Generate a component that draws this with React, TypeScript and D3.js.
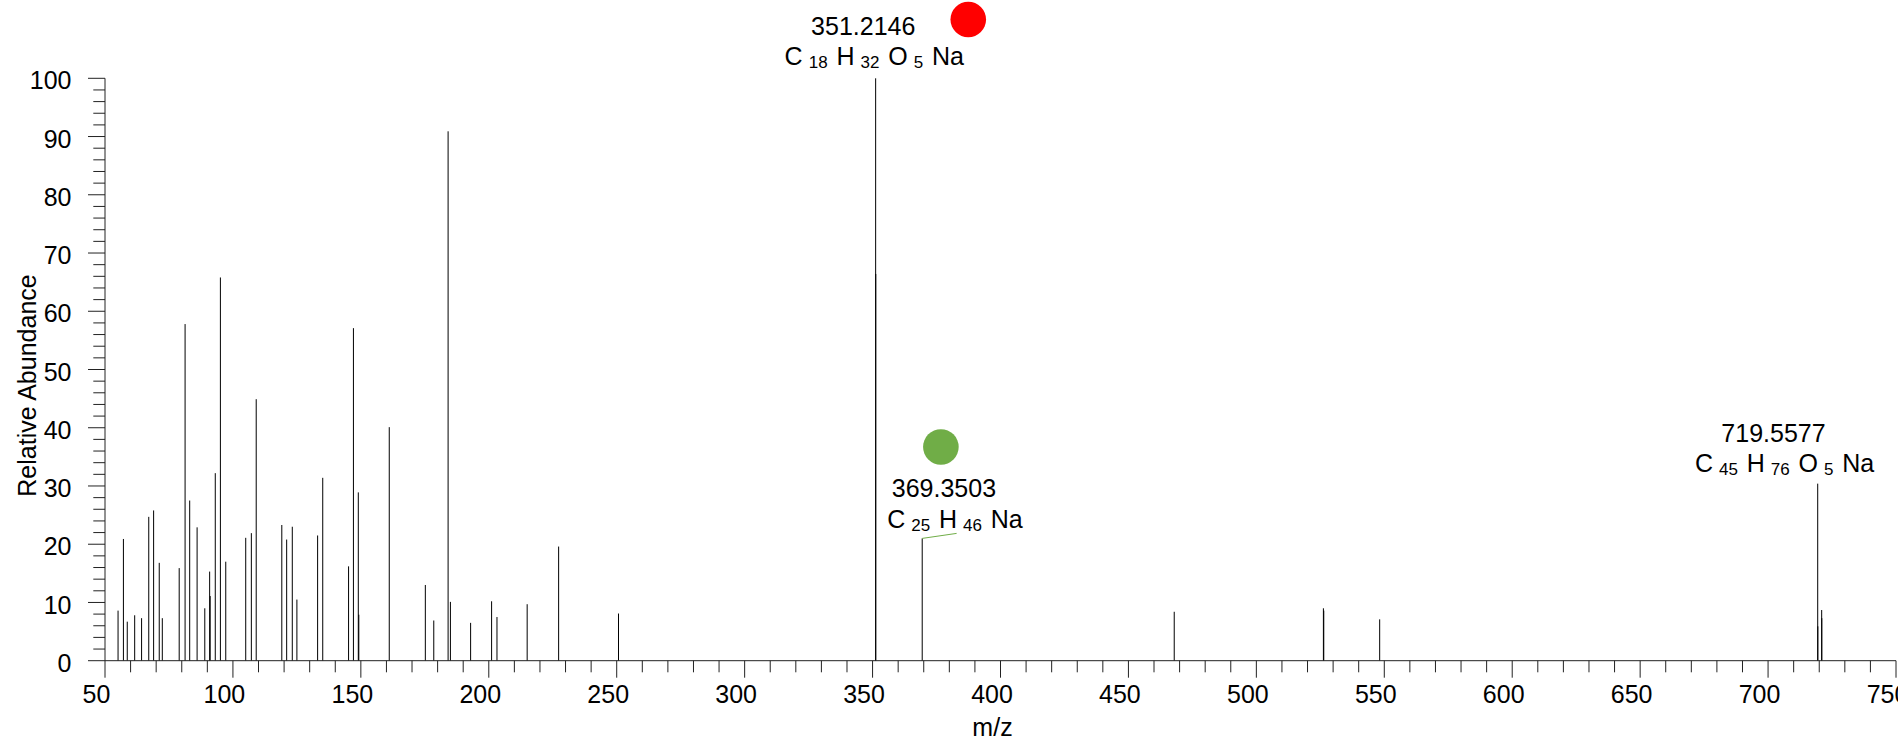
import React from "react";
import * as d3 from "d3";

// ---------- data ----------
const peakMz = [
  55.1, 57.2, 58.7, 61.6, 64.3, 67.1, 69.0, 71.2, 72.4, 79.0, 81.3, 83.1, 86.0, 89.0, 90.9, 91.1,
  93.1, 95.1, 97.2, 105.0, 107.2, 109.1, 119.1, 121.0, 123.2, 125.0, 133.1, 135.1, 145.2, 147.1,
  149.0, 149.2, 161.1, 175.2, 178.5, 184.1, 185.0, 192.9, 201.1, 203.2, 215.0, 227.3, 250.7,
  351.2, 351.25, 369.4, 467.9, 526.2, 526.35, 548.2, 719.4, 719.45, 720.95, 721.0,
];
const peakIntensity = [
  8.6, 20.9, 6.7, 7.8, 7.3, 24.7, 25.8, 16.8, 7.3, 15.9, 57.8, 27.5, 22.9, 9.0, 15.3, 11.1,
  32.2, 65.8, 17.0, 21.1, 21.9, 44.9, 23.3, 20.8, 23.0, 10.5, 21.5, 31.4, 16.2, 57.1,
  28.9, 7.9, 40.1, 13.0, 6.9, 90.9, 10.1, 6.5, 10.2, 7.5, 9.7, 19.6, 8.1,
  100, 66.4, 21.0, 8.4, 9.0, 8.6, 7.1, 30.4, 5.9, 8.7, 7.3,
];

const xMajorTicks = [50, 100, 150, 200, 250, 300, 350, 400, 450, 500, 550, 600, 650, 700, 750];
const yMajorTicks = [0, 10, 20, 30, 40, 50, 60, 70, 80, 90, 100];

const annoMz = [351.2, 369.4, 719.4];
const annoIntensity = [100, 21.0, 30.4];
const annoMass = ["351.2146", "369.3503", "719.5577"];
const annoFormula: [string, string][][] = [
  [["C", "18"], ["H", "32"], ["O", "5"], ["Na", ""]],
  [["C", "25"], ["H", "46"], ["Na", ""]],
  [["C", "45"], ["H", "76"], ["O", "5"], ["Na", ""]],
];
const annoLeader = [false, true, false];

const markerMz = [387.4, 376.7];
const markerLevel = [110.1, 36.7];

const xTitle = "m/z";
const yTitle = "Relative Abundance";

// ---------- layout / style ----------
const W = 1898;
const H = 748;
const FONT = "'Liberation Sans', Arial, Helvetica, sans-serif";
const FS = 25;
const SUB_FS = 17;
const markerColors = ["#ff0000", "#70ad47"];
const labelOffsets = [
  [-1.4, -13.3],
  [32.7, -10.6],
  [-33.2, -11.6],
];

export default function App() {
  const x = d3.scaleLinear().domain([50, 750]).range([105, 1896]);
  const y = d3.scaleLinear().domain([0, 100]).range([660.7, 78.3]);
  const y0 = y(0);
  const xMinor = d3.range(50, 751, 10);
  const yMinor = d3.range(0, 101, 2);

  const renderFormula = (parts: [string, string][]) => {
    const spans: React.ReactNode[] = [];
    let shift = 0;
    let prevSub = false;
    parts.forEach(([el, sub], i) => {
      const dyMain = -shift;
      shift = 0;
      spans.push(
        <tspan key={`e${i}`} dx={i === 0 ? 0 : prevSub ? 8.8 : 6.5} dy={dyMain} fontSize={FS}>
          {el}
        </tspan>
      );
      if (sub) {
        spans.push(
          <tspan key={`s${i}`} dx={6.0} dy={3.3} fontSize={SUB_FS}>
            {sub}
          </tspan>
        );
        shift = 3.3;
        prevSub = true;
      } else {
        prevSub = false;
      }
    });
    return spans;
  };

  return (
    <svg
      width={W}
      height={H}
      style={{ position: "absolute", left: 0, top: 0, display: "block", background: "#fff" }}
      fontFamily={FONT}
    >
      {/* peaks */}
      <g stroke="#000" strokeWidth={1}>
        {peakMz.map((m, i) => (
          <line key={i} x1={x(m)} x2={x(m)} y1={y0} y2={y(peakIntensity[i])} />
        ))}
      </g>

      {/* x axis */}
      <g stroke="#222" strokeWidth={1}>
        <line x1={x(50)} x2={x(750)} y1={y0} y2={y0} />
        {xMinor.map((v) => (
          <line key={v} x1={x(v)} x2={x(v)} y1={y0} y2={y0 + (v % 50 === 0 ? 17 : 11.6)} />
        ))}
      </g>
      <g fontSize={FS} textAnchor="middle" fill="#000">
        {xMajorTicks.map((v) => (
          <text key={v} x={x(v) - 8.5} y={703.3}>
            {v}
          </text>
        ))}
      </g>
      <text x={992.5} y={736} fontSize={FS} textAnchor="middle" fill="#000">
        {xTitle}
      </text>

      {/* y axis */}
      <g stroke="#222" strokeWidth={1}>
        <line x1={x(50)} x2={x(50)} y1={y(0)} y2={y(100)} />
        {yMinor.map((v) => (
          <line key={v} x1={x(50) - (v % 10 === 0 ? 17 : 11.7)} x2={x(50)} y1={y(v)} y2={y(v)} />
        ))}
      </g>
      <g fontSize={FS} textAnchor="end" fill="#000">
        {yMajorTicks.map((v) => (
          <text key={v} x={71.5} y={y(v) + 11.1}>
            {v}
          </text>
        ))}
      </g>
      <text
        transform={`translate(35.5, ${(y(0) + y(100)) / 2 + 16}) rotate(-90)`}
        fontSize={FS}
        textAnchor="middle"
        fill="#000"
      >
        {yTitle}
      </text>

      {/* annotations */}
      {annoMz.map((m, i) => {
        const px = x(m);
        const py = y(annoIntensity[i]);
        const cx = px + labelOffsets[i][0];
        const by = py + labelOffsets[i][1];
        return (
          <g key={i} fill="#000">
            {annoLeader[i] && (
              <line x1={px} y1={py} x2={cx + 1.7} y2={by + 5.6} stroke="#70ad47" strokeWidth={1} />
            )}
            <text x={cx - 11} y={by - 30.5} fontSize={FS} textAnchor="middle">
              {annoMass[i]}
            </text>
            <text x={cx} y={by} fontSize={FS} textAnchor="middle">
              {renderFormula(annoFormula[i])}
            </text>
          </g>
        );
      })}

      {/* markers */}
      {markerMz.map((m, i) => (
        <circle key={i} cx={x(m)} cy={y(markerLevel[i])} r={17.8} fill={markerColors[i]} />
      ))}
    </svg>
  );
}
